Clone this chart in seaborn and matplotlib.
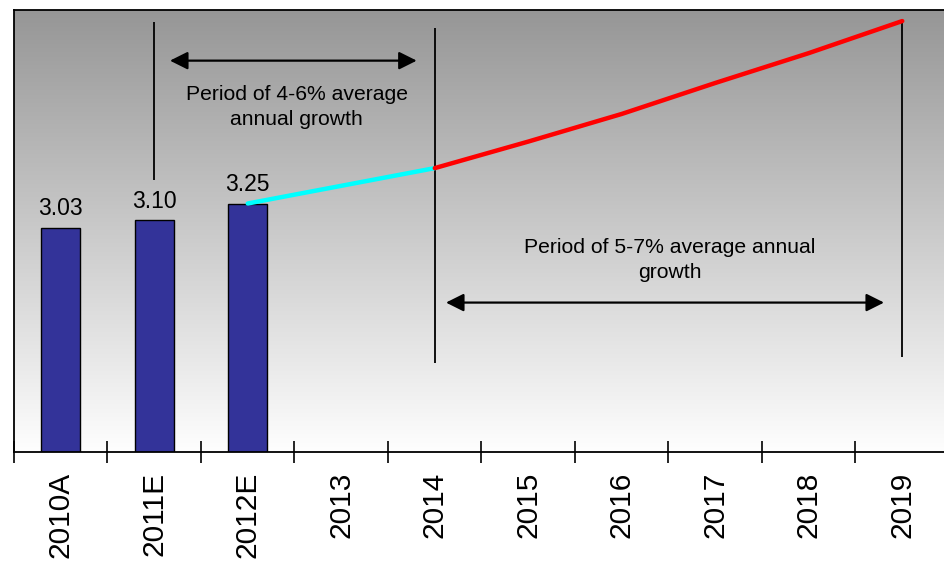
import numpy as np
import pandas as pd
import matplotlib
matplotlib.use("Agg")
import matplotlib.pyplot as plt
import seaborn as sns

# Categories along the x axis
categories = ["2010A", "2011E", "2012E", "2013", "2014",
              "2015", "2016", "2017", "2018", "2019"]

# Reported / estimated values shown as bars
bar_years = ["2010A", "2011E", "2012E"]
bar_values = [3.03, 3.10, 3.25]

# Projection at moderate growth (2012E -> 2014)
moderate_years = ["2012E", "2013", "2014"]
moderate_values = [3.25, 3.41, 3.57]

# Projection at stronger growth (2014 -> 2019)
strong_years = ["2014", "2015", "2016", "2017", "2018", "2019"]
strong_values = [3.57, 3.81, 4.06, 4.34, 4.61, 4.90]

moderate_note = "Period of 4-6% average\nannual growth"
strong_note = "Period of 5-7% average annual\ngrowth"

sns.set_theme(style="white")
plt.rcParams["font.family"] = ["Liberation Sans", "DejaVu Sans"]

fig = plt.figure(figsize=(9.45, 5.61), dpi=100)
fig.patch.set_facecolor("white")
ax = fig.add_axes([14 / 945, 108.7 / 561, 935 / 945, 442.3 / 561])

Y0, Y1 = 1.0, 5.0
pos = {c: i for i, c in enumerate(categories)}

# Gray-to-white vertical wash behind the plot
shade = np.linspace(150, 254, 256) / 255.0
grad = np.repeat(shade[:, None, None], 3, axis=2)
ax.imshow(grad, extent=[-0.5, 9.5, Y0, Y1], aspect="auto",
          zorder=0, interpolation="bilinear")

df = pd.DataFrame({"year": bar_years, "value": bar_values})
sns.barplot(data=df, x="year", y="value", order=categories,
            color="#333399", saturation=1, width=0.42,
            edgecolor="black", linewidth=1.0, ax=ax, zorder=2)

# Value labels above the bars
for c, v in zip(bar_years, bar_values):
    ax.annotate(f"{v:.2f}", (pos[c], v), xytext=(0, 9),
                textcoords="offset points", ha="center", va="baseline",
                fontsize=16.5, color="black", zorder=5)

# Projection lines
sns.lineplot(x=[pos[c] for c in moderate_years], y=moderate_values,
             color="#00FFFF", lw=3.2, ax=ax, zorder=4)
sns.lineplot(x=[pos[c] for c in strong_years], y=strong_values,
             color="#FF0000", lw=3.2, ax=ax, zorder=4)

# Period markers
ax.vlines(pos["2011E"], 3.463, 4.889, color="black", lw=1.3, zorder=3)
ax.vlines(pos["2014"], 1.810, 4.835, color="black", lw=1.3, zorder=3)
ax.vlines(pos["2019"], 1.866, 4.90, color="black", lw=1.3, zorder=3)

arrow = dict(arrowstyle="<|-|>,head_length=0.9,head_width=0.45",
             mutation_scale=12, lw=1.6, color="black",
             shrinkA=0, shrinkB=0)
ax.annotate("", xy=(1.168, 4.542), xytext=(3.807, 4.542), arrowprops=arrow)
ax.annotate("", xy=(4.120, 2.354), xytext=(8.805, 2.354), arrowprops=arrow)

ax.text(2.524, 4.125, moderate_note, ha="center", va="center",
        multialignment="center", fontsize=15.2, linespacing=1.38,
        color="black", zorder=5)
ax.text(6.516, 2.740, strong_note, ha="center", va="center",
        multialignment="center", fontsize=15.2, linespacing=1.38,
        color="black", zorder=5)

ax.set_xlim(-0.5, 9.5)
ax.set_ylim(Y0, Y1)
ax.set_xlabel("")
ax.set_ylabel("")
ax.set_yticks([])

ax.set_xticks(range(len(categories)))
ax.set_xticklabels(categories, rotation=90, fontsize=21.5, color="black")
ax.tick_params(axis="x", which="major", length=0, pad=14)
ax.set_xticks(np.arange(-0.5, len(categories), 1.0), minor=True)
ax.tick_params(axis="x", which="minor", bottom=True, length=16,
               direction="inout", width=1.2, color="black")

for s in ax.spines.values():
    s.set_color("black")
    s.set_linewidth(1.3)

fig.savefig("out.png", dpi=100)
